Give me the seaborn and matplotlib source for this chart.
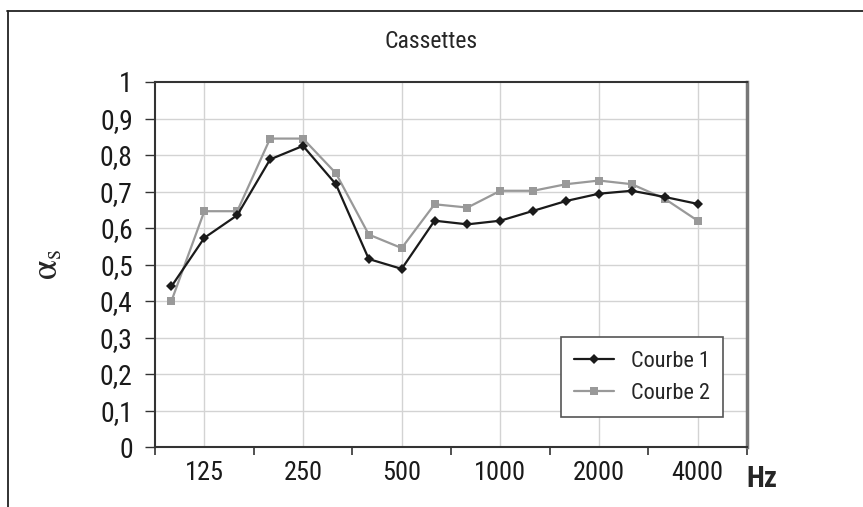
import numpy as np
import pandas as pd
import matplotlib
matplotlib.use("Agg")
import matplotlib.pyplot as plt
from matplotlib.lines import Line2D
import seaborn as sns

frequencies = ["100", "125", "160", "200", "250", "315", "400", "500", "630",
               "800", "1000", "1250", "1600", "2000", "2500", "3150", "4000", "5000"]
shown_labels = ["125", "250", "500", "1000", "2000", "4000"]
courbe1 = [0.44, 0.573, 0.635, 0.788, 0.825, 0.72, 0.515, 0.488, 0.62,
           0.61, 0.62, 0.647, 0.674, 0.694, 0.702, 0.685, 0.666]
courbe2 = [0.40, 0.646, 0.646, 0.845, 0.845, 0.75, 0.582, 0.545, 0.665,
           0.656, 0.702, 0.702, 0.72, 0.73, 0.72, 0.68, 0.62]
y_ticks = [0, 0.1, 0.2, 0.3, 0.4, 0.5, 0.6, 0.7, 0.8, 0.9, 1]
y_tick_labels = ["0", "0,1", "0,2", "0,3", "0,4", "0,5", "0,6", "0,7", "0,8", "0,9", "1"]

sns.set_style("white")
plt.rcParams['font.family'] = ['Roboto Condensed', 'DejaVu Sans']
plt.rcParams['mathtext.fontset'] = 'stix'

fig = plt.figure(figsize=(8.63, 5.07), dpi=100)
ax = fig.add_axes([155/863, 1-447/507, 592/863, 365/507])

pos1 = np.arange(len(courbe1))
pos2 = np.arange(len(courbe2))
df = pd.DataFrame({
    "pos": np.concatenate([pos1, pos2]),
    "val": courbe1 + courbe2,
    "serie": ["Courbe 1"] * len(courbe1) + ["Courbe 2"] * len(courbe2),
})

sns.lineplot(data=df[df.serie == "Courbe 1"], x="pos", y="val", ax=ax,
             color="#1a1a1a", marker="D", markersize=5, linewidth=1.6,
             markeredgewidth=0, label="Courbe 1", zorder=4)
sns.lineplot(data=df[df.serie == "Courbe 2"], x="pos", y="val", ax=ax,
             color="#999999", marker="s", markersize=6, linewidth=1.6,
             markeredgewidth=0, label="Courbe 2", zorder=3)

n = len(frequencies)
ax.set_xlim(-0.5, n - 0.5)
ax.set_ylim(0, 1)

ax.set_xticks(np.arange(-0.5, n, 3))
ax.set_xticklabels([])
label_pos = [frequencies.index(l) for l in shown_labels]
ax.set_xticks(label_pos, minor=True)
ax.set_xticklabels(shown_labels, minor=True)
ax.tick_params(axis='x', which='major', direction='out', length=6, width=1.2,
               color='#333333', bottom=True)
ax.tick_params(axis='x', which='minor', length=0, pad=10, labelsize=19,
               labelcolor='#1a1a1a')

ax.set_yticks(y_ticks)
ax.set_yticklabels(y_tick_labels)
ax.tick_params(axis='y', direction='out', length=7, width=1, color='#333333',
               pad=9, labelsize=20, left=True, labelcolor='#1a1a1a')

ax.grid(False)
for p in label_pos:
    ax.axvline(p, color='#d3d3d3', linewidth=1, zorder=0)
for yv in y_ticks[1:-1]:
    ax.axhline(yv, color='#d3d3d3', linewidth=1, zorder=0)

for side, sp in ax.spines.items():
    sp.set_visible(True)
    sp.set_color('#333333')
    sp.set_linewidth(1.5)
ax.spines['right'].set_color('#777777')
ax.spines['right'].set_linewidth(2.5)

ax.set_xlabel("")
ax.set_ylabel("")

leg = ax.legend(loc='lower left', bbox_to_anchor=(0.686, 0.082), frameon=True,
                fancybox=False, edgecolor='#555555', framealpha=1, fontsize=16,
                handlelength=1.8, handletextpad=0.75, borderpad=0.6,
                labelspacing=0.5, borderaxespad=0)
leg.get_frame().set_linewidth(1.2)

fig.text(431/863, 1-42/507, "Cassettes", ha='center', va='center', fontsize=17)
fig.text(47/863, 1-265/507, r"$\mathrm{\alpha}_\mathrm{s}$", ha='center', va='center',
         fontsize=26, rotation=90)
fig.text(762/863, 1-479/507, "Hz", ha='center', va='center', fontsize=21,
         fontweight='bold')

fig.add_artist(Line2D([7/863, 1.0], [1-11/507, 1-11/507], transform=fig.transFigure,
                      color='#222222', linewidth=1.3))
fig.add_artist(Line2D([8/863, 8/863], [1-11/507, 0.0], transform=fig.transFigure,
                      color='#222222', linewidth=1.3))

fig.savefig("out.png", dpi=100)
